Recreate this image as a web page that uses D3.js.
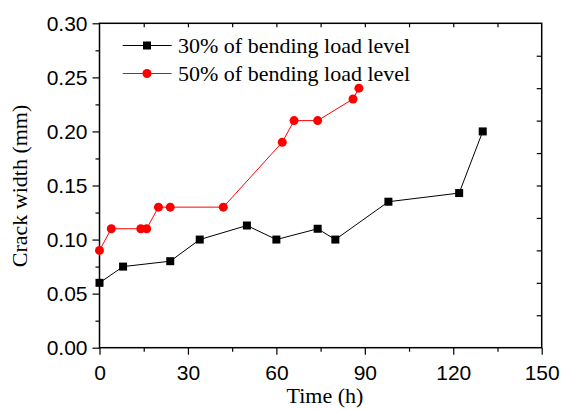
<!DOCTYPE html>
<html>
<head>
<meta charset="utf-8">
<script src="https://cdn.jsdelivr.net/npm/d3@7"></script>
<style>
  body { margin: 0; background: #fff; }
  .tick text { font-family: "Liberation Sans", Arial, sans-serif; font-size: 21px; fill: #000; }
  .serif { font-family: "Liberation Serif", "Times New Roman", serif; }
</style>
</head>
<body>
<script>
'use strict';

const time30 = [0, 8, 24, 34, 50, 60, 74, 80, 98, 122, 130];
const width30 = [0.06, 0.075, 0.08, 0.10, 0.113, 0.10, 0.11, 0.10, 0.135, 0.143, 0.20];
const time50 = [0, 4, 14, 16, 20, 24, 42, 62, 66, 74, 86, 88];
const width50 = [0.09, 0.11, 0.11, 0.11, 0.13, 0.13, 0.13, 0.19, 0.21, 0.21, 0.23, 0.24];
const seriesNames = ['30% of bending load level', '50% of bending load level'];
const xTicks = [0, 30, 60, 90, 120, 150];
const xMinor = [15, 45, 75, 105, 135];
const yTicks = [0, 0.05, 0.10, 0.15, 0.20, 0.25, 0.30];
const yMinor = [0.025, 0.075, 0.125, 0.175, 0.225, 0.275];
const yRightTicks = [0.03, 0.06, 0.09, 0.12, 0.15, 0.18, 0.21, 0.24, 0.27];

let width = 562;
let height = 409;

let svg = d3.select('body').append('svg')
  .attr('width', width)
  .attr('height', height);

let x = d3.scaleLinear().domain([0, 150]).range([99.5, 541.7]);
let y = d3.scaleLinear().domain([0, 0.30]).range([347.7, 23.3]);

function cleanAxis(g) {
  g.select('.domain').remove();
  g.selectAll('line').attr('stroke', '#000').attr('stroke-width', 1.2);
}

// minor ticks first
svg.append('g')
  .attr('transform', 'translate(0,' + y(0) + ')')
  .call(d3.axisBottom(x).tickValues(xMinor).tickSize(4).tickFormat(''))
  .call(cleanAxis);
svg.append('g')
  .attr('transform', 'translate(' + x(0) + ',0)')
  .call(d3.axisLeft(y).tickValues(yMinor).tickSize(4).tickFormat(''))
  .call(cleanAxis);

// major ticks
svg.append('g')
  .attr('transform', 'translate(0,' + y(0) + ')')
  .call(d3.axisBottom(x).tickValues(xTicks).tickSize(7).tickPadding(10).tickFormat(d3.format('d')))
  .call(cleanAxis);
svg.append('g')
  .attr('transform', 'translate(' + x(0) + ',0)')
  .call(d3.axisLeft(y).tickValues(yTicks).tickSize(7).tickPadding(5).tickFormat(d3.format('.2f')))
  .call(cleanAxis);

// top and right ticks point inward
svg.append('g')
  .attr('transform', 'translate(0,' + y(0.30) + ')')
  .call(d3.axisTop(x).tickValues(xMinor.concat(xTicks.slice(1, -1))).tickSize(-4).tickFormat(''))
  .call(cleanAxis);
svg.append('g')
  .attr('transform', 'translate(' + x(150) + ',0)')
  .call(d3.axisRight(y).tickValues(yRightTicks).tickSize(-5).tickFormat(''))
  .call(cleanAxis);

// frame
svg.append('rect')
  .attr('x', x(0))
  .attr('y', y(0.30))
  .attr('width', x(150) - x(0))
  .attr('height', y(0) - y(0.30))
  .attr('fill', 'none')
  .attr('stroke', '#000')
  .attr('stroke-width', 1.5);

// axis titles
svg.append('text')
  .attr('class', 'serif')
  .attr('x', 325)
  .attr('y', 403)
  .attr('text-anchor', 'middle')
  .style('font-size', '22px')
  .text('Time (h)');

svg.append('text')
  .attr('class', 'serif')
  .attr('transform', 'translate(27,186)rotate(-90)')
  .attr('text-anchor', 'middle')
  .style('font-size', '22px')
  .text('Crack width (mm)');

let line = d3.line().x(d => x(d[0])).y(d => y(d[1]));
let data30 = time30.map((t, i) => [t, width30[i]]);
let data50 = time50.map((t, i) => [t, width50[i]]);

svg.append('path')
  .datum(data50)
  .attr('d', line)
  .attr('fill', 'none')
  .attr('stroke', '#ff0000')
  .attr('stroke-width', 1);
svg.selectAll('.c50')
  .data(data50)
  .enter()
  .append('circle')
    .attr('class', 'c50')
    .attr('cx', d => x(d[0]))
    .attr('cy', d => y(d[1]))
    .attr('r', 4.5)
    .attr('fill', '#ff0000');

svg.append('path')
  .datum(data30)
  .attr('d', line)
  .attr('fill', 'none')
  .attr('stroke', '#000')
  .attr('stroke-width', 1);
svg.selectAll('.s30')
  .data(data30)
  .enter()
  .append('rect')
    .attr('class', 's30')
    .attr('x', d => x(d[0]) - 4)
    .attr('y', d => y(d[1]) - 4)
    .attr('width', 8)
    .attr('height', 8)
    .attr('fill', '#000');

// legend
let legendY = [45.5, 73.5];
let legendColor = ['#000', '#ff0000'];
seriesNames.forEach(function(name, i) {
  svg.append('line')
    .attr('x1', 122.7).attr('x2', 171.7)
    .attr('y1', legendY[i]).attr('y2', legendY[i])
    .attr('stroke', legendColor[i])
    .attr('stroke-width', 1);
  if (i === 0) {
    svg.append('rect')
      .attr('x', 147 - 4).attr('y', legendY[i] - 4)
      .attr('width', 8).attr('height', 8)
      .attr('fill', legendColor[i]);
  } else {
    svg.append('circle')
      .attr('cx', 147).attr('cy', legendY[i])
      .attr('r', 4.5)
      .attr('fill', legendColor[i]);
  }
  svg.append('text')
    .attr('class', 'serif')
    .attr('x', 178)
    .attr('y', legendY[i] + 7.5)
    .style('font-size', '22px')
    .text(name);
});
</script>
</body>
</html>
